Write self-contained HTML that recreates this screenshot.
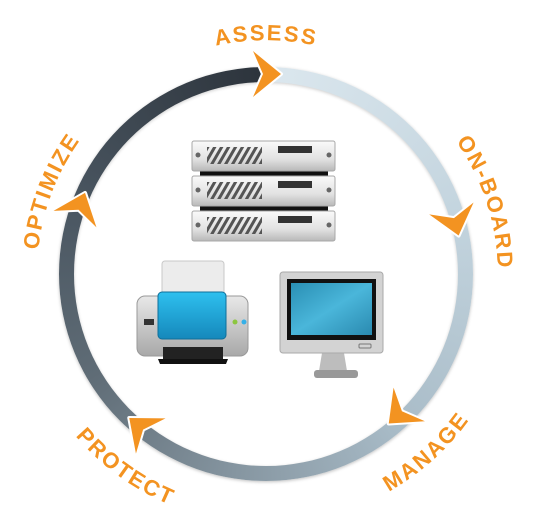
<!DOCTYPE html>
<html><head><meta charset="utf-8"><style>
html,body{margin:0;padding:0;background:#fff;}
body{width:533px;height:515px;position:relative;overflow:hidden;}
#ring{position:absolute;left:59px;top:67px;width:414px;height:414px;border-radius:50%;
background:conic-gradient(from 2deg,#dbe7ee,#c3d4de 20%,#a9bcc8 38%,#8595a0 52%,#5f6c76 66%,#4a5661 80%,#2b323a 100%);
box-shadow:0 1px 3px rgba(0,0,0,.25);}
#inner{position:absolute;left:74px;top:82px;width:384px;height:384px;border-radius:50%;background:#fff;box-shadow:inset 0 1px 3px rgba(0,0,0,.2);}
svg{position:absolute;left:0;top:0;}
text{font-family:"Liberation Sans",sans-serif;font-size:22px;font-weight:bold;fill:#f39321;letter-spacing:2px;}
</style></head><body>
<div id="ring"></div><div id="inner"></div>
<svg width="533" height="515" viewBox="0 0 533 515">
<defs>
<linearGradient id="sv" x1="0" y1="0" x2="0" y2="1"><stop offset="0" stop-color="#fafafa"/><stop offset="0.6" stop-color="#e2e2e2"/><stop offset="1" stop-color="#b8b8b8"/></linearGradient>
<pattern id="hatch" width="6" height="6" patternUnits="userSpaceOnUse" patternTransform="rotate(30)"><rect width="3" height="6" fill="#555"/></pattern>
<linearGradient id="pb" x1="0" y1="0" x2="0" y2="1"><stop offset="0" stop-color="#e8e8e8"/><stop offset="1" stop-color="#a8a8a8"/></linearGradient>
<linearGradient id="blue" x1="0" y1="0" x2="0" y2="1"><stop offset="0" stop-color="#2ec0ef"/><stop offset="1" stop-color="#1588bb"/></linearGradient>
<linearGradient id="scr" x1="0" y1="0" x2="1" y2="1"><stop offset="0" stop-color="#2a8fb4"/><stop offset="0.5" stop-color="#4ab6da"/><stop offset="1" stop-color="#2a8ab0"/></linearGradient>
<path id="pA" d="M 35.6 233.4 A 234 234 0 0 1 496.4 233.4"/>
<path id="pO" d="M 233.7 44.3 A 232 232 0 0 1 374.9 478.8"/>
<path id="pZ" d="M 148.1 470.3 A 229 229 0 0 1 309.7 49.2"/>
<path id="pM" d="M 112.1 471 A 250 250 0 0 0 478 141.5"/>
<path id="pP" d="M 41.3 164.4 A 250 250 0 0 0 439.7 453.8"/>
</defs>
<text><textPath href="#pA" startOffset="50%" text-anchor="middle">ASSESS</textPath></text>
<text><textPath href="#pO" startOffset="50%" text-anchor="middle">ON-BOARD</textPath></text>
<text><textPath href="#pM" startOffset="50%" text-anchor="middle">MANAGE</textPath></text>
<text><textPath href="#pP" startOffset="50%" text-anchor="middle">PROTECT</textPath></text>
<text><textPath href="#pZ" startOffset="50%" text-anchor="middle">OPTIMIZE</textPath></text>

<g fill="#f39321" stroke="#fff" stroke-width="4" stroke-linejoin="round" paint-order="stroke">
<polygon points="-14,-23 14,0 -14,23 -4,0" transform="translate(267,74) rotate(0)"/>
<polygon points="-14,-23 14,0 -14,23 -4,0" transform="translate(455,222) rotate(75)"/>
<polygon points="-14,-23 14,0 -14,23 -4,0" transform="translate(399,414) rotate(137)"/>
<polygon points="-14,-23 14,0 -14,23 -4,0" transform="translate(140,427) rotate(220)"/>
<polygon points="-14,-23 14,0 -14,23 -4,0" transform="translate(80,206) rotate(291)"/>
</g>

<!-- servers -->
<g>
<rect x="200" y="170" width="128" height="6" fill="#111"/>
<rect x="200" y="205" width="128" height="6" fill="#111"/>
<g id="unit">
<rect x="192" y="141" width="143" height="30" rx="2" fill="url(#sv)" stroke="#a8a8a8"/>
<circle cx="198" cy="155" r="2.5" fill="#666"/><circle cx="329" cy="155" r="2.5" fill="#666"/>
<rect x="207" y="147" width="55" height="17" fill="url(#hatch)"/>
<rect x="278" y="146" width="34" height="7" fill="#333"/>
</g>
<use href="#unit" y="35"/><use href="#unit" y="70"/>
</g>

<!-- printer -->
<g>
<rect x="162" y="261" width="62" height="40" rx="3" fill="#ececec" stroke="#c8c8c8"/>
<rect x="137" y="296" width="111" height="60" rx="8" fill="url(#pb)" stroke="#999"/>
<rect x="158" y="292" width="68" height="47" rx="4" fill="url(#blue)" stroke="#0f6f9a"/>
<rect x="144" y="319" width="10" height="6" fill="#333"/>
<circle cx="235" cy="322" r="2.5" fill="#8cc63f"/><circle cx="244" cy="322" r="2.5" fill="#35b0e8"/>
<rect x="163" y="347" width="60" height="12" fill="#222"/>
<polygon points="158,359 228,359 226,364 160,364" fill="#111"/>
</g>

<!-- monitor -->
<g>
<polygon points="322,353 344,353 347,371 319,371" fill="#bdbdbd"/>
<rect x="314" y="370" width="44" height="8" rx="3" fill="#999"/>
<rect x="280" y="272" width="103" height="81" rx="3" fill="#d3d3d3" stroke="#aaa"/>
<rect x="287" y="279" width="89" height="61" fill="#111"/>
<rect x="291" y="283" width="81" height="52" fill="url(#scr)"/>
<rect x="359" y="344" width="12" height="4" rx="1" fill="none" stroke="#777"/>
</g>
</svg>
</body></html>
